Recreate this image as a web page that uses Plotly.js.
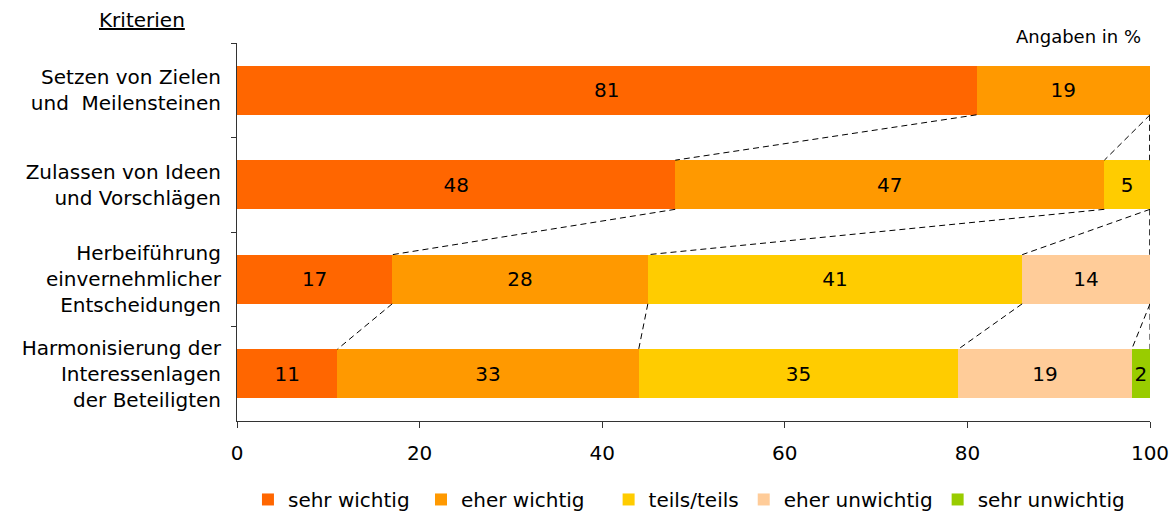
<!DOCTYPE html>
<html>
<head>
<meta charset="utf-8">
<script src="https://cdn.plot.ly/plotly-3.0.1.min.js"></script>
<style>
  html, body { margin: 0; padding: 0; background: #ffffff; }
  #chart { width: 1174px; height: 514px; }
</style>
</head>
<body>
<div id="chart"></div>
<script>
// Criteria, top to bottom
const categories = [
  "Setzen von Zielen<br>und\u00a0 Meilensteinen",
  "Zulassen von Ideen<br>und Vorschlägen",
  "Herbeiführung<br>einvernehmlicher<br>Entscheidungen",
  "Harmonisierung der<br>Interessenlagen<br>der Beteiligten"
];

// Answer shares in percent, one array per answer option
const seriesNames = ["sehr wichtig", "eher wichtig", "teils/teils", "eher unwichtig", "sehr unwichtig"];
const sehrWichtig   = [81, 48, 17, 11];
const eherWichtig   = [19, 47, 28, 33];
const teilsTeils    = [0, 5, 41, 35];
const eherUnwichtig = [0, 0, 14, 19];
const sehrUnwichtig = [0, 0, 0, 2];

const xTicks = [0, 20, 40, 60, 80, 100];

const seriesValues = [sehrWichtig, eherWichtig, teilsTeils, eherUnwichtig, sehrUnwichtig];
const seriesColors = ["#FF6600", "#FF9900", "#FFCC00", "#FFCC99", "#99CC00"];
// extra trailing space after some legend entries to widen their spacing
const legendPad = [1, 3, 0, 0, 0];

const FONT = "DejaVu Sans, Liberation Sans, Arial, sans-serif";
const BARGAP = 0.48;

const traces = seriesValues.map((vals, s) => ({
  type: "bar",
  orientation: "h",
  name: seriesNames[s] + "\u00a0".repeat(legendPad[s]),
  y: categories,
  x: vals,
  marker: { color: seriesColors[s], line: { width: 0 } },
  text: vals.map(v => (v > 0 ? String(v) : "")),
  textposition: "inside",
  insidetextanchor: "middle",
  textangle: 0,
  constraintext: "none",
  textfont: { family: FONT, size: 20, color: "#000000" },
  hoverinfo: "skip"
}));

// Dashed series lines joining each segment end of one bar to the same
// segment end of the bar below it
const half = (1 - BARGAP) / 2;
const shapes = [];
for (let s = 0; s < seriesValues.length; s++) {
  const cum = categories.map((_, i) => {
    let t = 0;
    for (let k = 0; k <= s; k++) t += seriesValues[k][i];
    return t;
  });
  for (let i = 0; i < categories.length - 1; i++) {
    shapes.push({
      type: "line", xref: "x", yref: "y",
      x0: cum[i], y0: i + half,
      x1: cum[i + 1], y1: i + 1 - half,
      line: { color: "#000000", width: 1, dash: "6px,4px" }
    });
  }
}

const layout = {
  width: 1174,
  height: 514,
  margin: { l: 237, r: 24, t: 43, b: 93, autoexpand: false },
  paper_bgcolor: "#ffffff",
  plot_bgcolor: "#ffffff",
  barmode: "stack",
  bargap: BARGAP,
  font: { family: FONT, size: 20, color: "#000000" },
  showlegend: true,
  legend: {
    orientation: "h",
    x: 0.012, xanchor: "left",
    y: -0.156, yanchor: "top",
    font: { family: FONT, size: 20, color: "#000000" },
    traceorder: "normal",
    bgcolor: "rgba(0,0,0,0)"
  },
  xaxis: {
    range: [0, 100],
    tickvals: xTicks,
    ticktext: xTicks.map(String),
    ticks: "outside",
    ticklen: 6,
    tickcolor: "#333333",
    showline: true,
    linecolor: "#333333",
    linewidth: 1,
    showgrid: false,
    zeroline: false,
    tickfont: { family: FONT, size: 20, color: "#000000" },
    ticklabelstandoff: 8,
    fixedrange: true
  },
  yaxis: {
    type: "category",
    categoryorder: "array",
    categoryarray: categories,
    range: [categories.length - 0.5, -0.5],
    ticks: "outside",
    tickson: "boundaries",
    ticklen: 5,
    tickcolor: "#333333",
    showline: true,
    linecolor: "#333333",
    linewidth: 1,
    showgrid: false,
    zeroline: false,
    tickfont: { family: FONT, size: 20, color: "#000000" },
    ticklabelstandoff: 11,
    fixedrange: true
  },
  shapes: shapes,
  annotations: [
    {
      xref: "paper", yref: "paper",
      x: -0.104, y: 1.06,
      xanchor: "center", yanchor: "middle",
      text: "<u>Kriterien</u>",
      showarrow: false,
      font: { family: FONT, size: 20, color: "#000000" }
    },
    {
      xref: "paper", yref: "paper",
      x: 0.992, y: 1.017,
      xanchor: "right", yanchor: "middle",
      text: "Angaben in %",
      showarrow: false,
      font: { family: FONT, size: 18, color: "#000000" }
    }
  ]
};

Plotly.newPlot("chart", traces, layout, { displayModeBar: false, staticPlot: true });
</script>
</body>
</html>
